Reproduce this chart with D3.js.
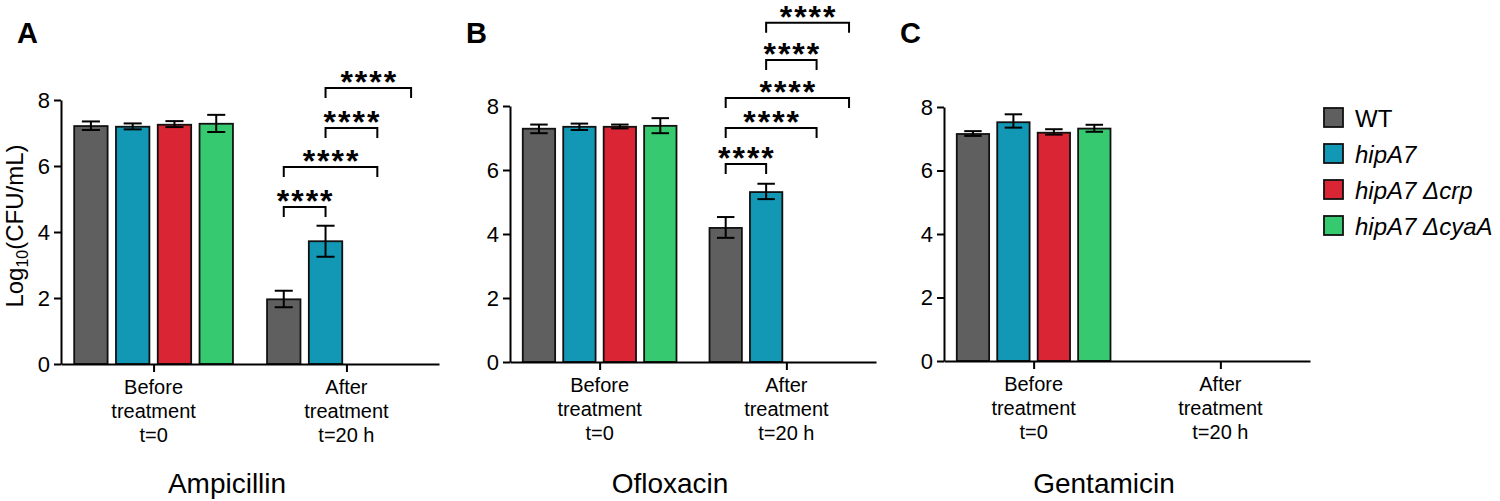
<!DOCTYPE html>
<html>
<head>
<meta charset="utf-8">
<script src="https://cdn.jsdelivr.net/npm/d3@7"></script>
<style>
  body { margin: 0; background: #fff; }
  svg { font-family: "Liberation Sans", Arial, sans-serif; }
</style>
</head>
<body>
<svg id="graph" width="1500" height="501"></svg>
<script>
// ---- data ----
var strains = ["WT", "hipA7", "hipA7 \u0394crp", "hipA7 \u0394cyaA"];
var strainItalic = [false, true, true, true];
var strainColors = ["#5f5f5f", "#1298b4", "#d92534", "#37c96f"];
var timepoints = ["before", "after"];
var timeLabels = [["Before", "treatment", "t=0"], ["After", "treatment", "t=20 h"]];
var drugs = ["Ampicillin", "Ofloxacin", "Gentamicin"];
var panelLetters = ["A", "B", "C"];
var yTicks = [0, 2, 4, 6, 8];

// mean / upper / lower of the error bar, [before, after], null = no bar
var ampMean = [[7.21, 7.19, 7.25, 7.28], [1.96, 3.72, null, null]];
var ampHi   = [[7.35, 7.29, 7.36, 7.55], [2.22, 4.19, null, null]];
var ampLo   = [[7.09, 7.11, 7.18, 7.03], [1.72, 3.25, null, null]];

var oflMean = [[7.29, 7.35, 7.35, 7.38], [4.19, 5.31, null, null]];
var oflHi   = [[7.42, 7.45, 7.42, 7.62], [4.53, 5.57, null, null]];
var oflLo   = [[7.15, 7.25, 7.30, 7.15], [3.88, 5.09, null, null]];

var genMean = [[7.15, 7.52, 7.19, 7.32], [null, null, null, null]];
var genHi   = [[7.24, 7.77, 7.30, 7.44], [null, null, null, null]];
var genLo   = [[7.09, 7.35, 7.13, 7.22], [null, null, null, null]];

// significance brackets (after treatment): strain index pair + height in log units
var ampStats = [[0, 1, 4.76], [0, 2, 5.97], [1, 2, 7.15], [1, 3, 8.36]];
var oflStats = [[0, 1, 6.19], [0, 2, 7.31], [0, 3, 8.25], [1, 2, 9.44], [1, 3, 10.6]];
var genStats = [];
var starLabel = "****";

// ---- layout ----
var panels = [
  { left: 61,  top: 100, bottom: 364, width: 378 },
  { left: 510, top: 106, bottom: 362, width: 366 },
  { left: 944, top: 107, bottom: 361, width: 366 }
];
var means = [ampMean, oflMean, genMean];
var his = [ampHi, oflHi, genHi];
var los = [ampLo, oflLo, genLo];
var stats = [ampStats, oflStats, genStats];
var bracketNudge = [0, 0, 10, 2]; // bracket ends sit a bit right of some bars

var svg = d3.select("#graph");

var drawPanel = function(p, i) {
  var g = svg.append("g").attr("transform", "translate(" + p.left + ",0)");

  var y = d3.scaleLinear().domain([0, 8]).range([p.bottom, p.top]);
  var x0 = d3.scalePoint().domain(timepoints).range([0, p.width]).padding(0.48);
  var step = 0.105 * p.width;
  var x1 = d3.scaleBand().domain(strains).range([-2 * step, 2 * step]).paddingInner(0.2);
  var bw = x1.bandwidth();

  // bars + error bars
  timepoints.forEach(function(t, ti) {
    var rows = strains.map(function(s, si) {
      return { s: s, si: si, m: means[i][ti][si], hi: his[i][ti][si], lo: los[i][ti][si] };
    }).filter(function(d) { return d.m !== null; });

    var grp = g.append("g").attr("transform", "translate(" + x0(t) + ",0)");

    grp.selectAll("rect")
      .data(rows)
      .enter()
      .append("rect")
      .attr("x", function(d) { return x1(d.s); })
      .attr("y", function(d) { return y(d.m); })
      .attr("width", bw)
      .attr("height", function(d) { return y(0) - y(d.m); })
      .attr("fill", function(d) { return strainColors[d.si]; })
      .attr("stroke", "#111")
      .attr("stroke-width", 1.8);

    var eb = grp.selectAll("g.err")
      .data(rows)
      .enter()
      .append("g")
      .attr("class", "err")
      .attr("stroke", "#000")
      .attr("stroke-width", 2);
    eb.append("line")
      .attr("x1", function(d) { return x1(d.s) + bw / 2; })
      .attr("x2", function(d) { return x1(d.s) + bw / 2; })
      .attr("y1", function(d) { return y(d.hi); })
      .attr("y2", function(d) { return y(d.lo); });
    eb.selectAll("line.cap")
      .data(function(d) { return [[d, d.hi], [d, d.lo]]; })
      .enter()
      .append("line")
      .attr("class", "cap")
      .attr("x1", function(d) { return x1(d[0].s) + bw * 0.23; })
      .attr("x2", function(d) { return x1(d[0].s) + bw * 0.77; })
      .attr("y1", function(d) { return y(d[1]); })
      .attr("y2", function(d) { return y(d[1]); });
  });

  // axes
  var yAxis = d3.axisLeft(y).tickValues(yTicks).tickSize(7).tickSizeOuter(0).tickPadding(4);
  var ya = g.append("g").call(yAxis);
  ya.selectAll("text").attr("font-size", 22).attr("font-family", "Liberation Sans, Arial, sans-serif").attr("fill", "#000");
  ya.selectAll("line, path").attr("stroke", "#000").attr("stroke-width", 2);

  var xAxis = d3.axisBottom(x0).tickSize(8).tickSizeOuter(0).tickFormat("");
  var xa = g.append("g").attr("transform", "translate(0," + y(0) + ")").call(xAxis);
  xa.selectAll("line, path").attr("stroke", "#000").attr("stroke-width", 2);

  // multi-line group labels
  timepoints.forEach(function(t, ti) {
    var txt = g.append("text")
      .attr("text-anchor", "middle")
      .attr("font-size", 20)
      .attr("fill", "#000");
    timeLabels[ti].forEach(function(line, li) {
      txt.append("tspan")
        .attr("x", x0(t))
        .attr("y", y(0) + 30 + li * 24)
        .text(line);
    });
  });

  // drug name under the panel
  g.append("text")
    .attr("x", (x0(timepoints[0]) + x0(timepoints[1])) / 2 - 23)
    .attr("y", 493)
    .attr("text-anchor", "middle")
    .attr("font-size", 28)
    .attr("fill", "#000")
    .text(drugs[i]);

  // panel letter
  svg.append("text")
    .attr("x", p.left - 44)
    .attr("y", 43)
    .attr("font-size", 29)
    .attr("font-weight", "bold")
    .attr("fill", "#000")
    .text(panelLetters[i]);

  // significance brackets
  var cx = function(si) { return x0("after") + x1(strains[si]) + bw / 2 + bracketNudge[si]; };
  var br = g.selectAll("g.br")
    .data(stats[i])
    .enter()
    .append("g")
    .attr("class", "br");
  br.append("path")
    .attr("d", function(d) {
      var yy = y(d[2]);
      return "M" + cx(d[0]) + "," + (yy + 10) + "V" + yy + "H" + cx(d[1]) + "V" + (yy + 10);
    })
    .attr("fill", "none")
    .attr("stroke", "#000")
    .attr("stroke-width", 2);
  br.append("text")
    .attr("x", function(d) { return (cx(d[0]) + cx(d[1])) / 2 + 1; })
    .attr("y", function(d) { return y(d[2]) + 5; })
    .attr("text-anchor", "middle")
    .attr("font-size", 32)
    .attr("font-weight", "bold")
    .attr("letter-spacing", 2)
    .attr("fill", "#000")
    .text(starLabel);
};

panels.forEach(drawPanel);

// y axis title on panel A
var yt = svg.append("text")
  .attr("transform", "translate(23," + 226 + ") rotate(-90)")
  .attr("text-anchor", "middle")
  .attr("font-size", 24)
  .attr("fill", "#000");
yt.append("tspan").text("Log");
yt.append("tspan").attr("font-size", 16).attr("dy", 5).text("10");
yt.append("tspan").attr("dy", -5).text("(CFU/mL)");

// legend
var leg = svg.append("g").attr("transform", "translate(1324,108)");
var items = leg.selectAll("g")
  .data(strains)
  .enter()
  .append("g")
  .attr("transform", function(d, k) { return "translate(0," + k * 36 + ")"; });
items.append("rect")
  .attr("width", 19)
  .attr("height", 19)
  .attr("fill", function(d, k) { return strainColors[k]; })
  .attr("stroke", "#111")
  .attr("stroke-width", 1.8);
items.append("text")
  .attr("x", 31)
  .attr("y", 19)
  .attr("font-size", 24)
  .attr("font-style", function(d, k) { return strainItalic[k] ? "italic" : "normal"; })
  .attr("fill", "#000")
  .text(function(d) { return d; });
</script>
</body>
</html>
